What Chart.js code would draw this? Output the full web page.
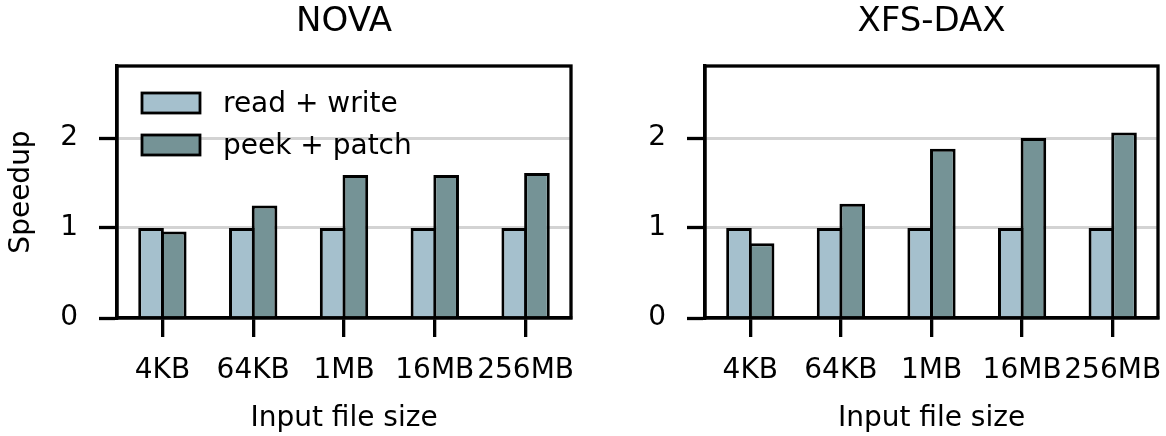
<!DOCTYPE html>
<html>
<head>
<meta charset="utf-8">
<script src="https://cdn.jsdelivr.net/npm/chart.js@4.4.1/dist/chart.umd.min.js"></script>
<style>
  html,body{margin:0;padding:0;background:#fff;}
  #wrap{position:relative;width:1166px;height:436px;}
  canvas{position:absolute;top:0;}
  #novaChart{left:0;}
  #xfsChart{left:583px;}
</style>
</head>
<body>
<div id="wrap">
  <canvas id="novaChart" width="583" height="436"></canvas>
  <canvas id="xfsChart" width="583" height="436"></canvas>
</div>
<script>
// datos (speedup relativo a read + write)
const sizes = ['4KB', '64KB', '1MB', '16MB', '256MB'];
const seriesNames = ['read + write', 'peek + patch'];
const novaReadWrite = [1, 1, 1, 1, 1];
const novaPeekPatch = [0.96, 1.25, 1.59, 1.59, 1.61];
const xfsReadWrite = [1, 1, 1, 1, 1];
const xfsPeekPatch = [0.83, 1.27, 1.88, 2.0, 2.06];
const yMax = 2.8;

const LIGHT = '#a5c0cd', DARK = '#759396', GRID = '#d3d3d3';
const FONT = '"DejaVu Sans"';
const AXW = 3.3;
Chart.defaults.font.family = FONT;
Chart.defaults.color = '#000';

// marco completo alrededor del área (Chart.js solo dibuja izquierda/abajo)
const framePlugin = {
  id: 'frame',
  afterDatasetsDraw(chart) {
    const a = chart.chartArea, ctx = chart.ctx;
    ctx.save();
    ctx.strokeStyle = '#000';
    ctx.lineWidth = AXW;
    ctx.strokeRect(a.left, a.top, a.right - a.left, a.bottom - a.top);
    ctx.restore();
  }
};

// leyenda sin marco dentro del área, como en el original
const insideLegend = {
  id: 'insideLegend',
  afterDatasetsDraw(chart, args, opts) {
    if (!opts.show) return;
    const a = chart.chartArea, ctx = chart.ctx;
    ctx.save();
    chart.data.datasets.forEach((ds, i) => {
      const bx = a.left + 25, by = a.top + 27 + i * 42;
      ctx.fillStyle = ds.backgroundColor;
      ctx.fillRect(bx, by, 58, 20);
      ctx.strokeStyle = '#000';
      ctx.lineWidth = 2.8;
      ctx.strokeRect(bx, by, 58, 20);
      ctx.fillStyle = '#000';
      ctx.font = '28px ' + FONT;
      ctx.textAlign = 'left';
      ctx.textBaseline = 'middle';
      ctx.fillText(ds.label, a.left + 106, by + 12);
    });
    ctx.restore();
  }
};

function makeChart(id, title, rw, pp, yWidth, padRight, firstPanel) {
  return new Chart(document.getElementById(id).getContext('2d'), {
    type: 'bar',
    data: {
      labels: sizes,
      datasets: [
        {label: seriesNames[0], data: rw, backgroundColor: LIGHT, borderColor: '#000', borderWidth: 3},
        {label: seriesNames[1], data: pp, backgroundColor: DARK, borderColor: '#000', borderWidth: 3},
      ]
    },
    options: {
      responsive: false, animation: false,
      categoryPercentage: 0.5, barPercentage: 1.13,
      layout: {padding: {left: 0, right: padRight, top: 0, bottom: 0}},
      plugins: {
        legend: {display: false},
        tooltip: {enabled: false},
        title: {display: true, text: title, fullSize: false, color: '#000',
                font: {size: 34, weight: 'normal'}, padding: {top: 2.2, bottom: 23}},
        insideLegend: {show: firstPanel},
      },
      scales: {
        x: {
          grid: {offset: false, drawOnChartArea: false, tickLength: 19, tickWidth: AXW, tickColor: '#000', color: '#000', lineWidth: AXW},
          border: {color: '#000', width: AXW},
          ticks: {font: {size: 28}, padding: 17, autoSkip: false, maxRotation: 0, minRotation: 0},
          title: {display: true, text: 'Input file size', font: {size: 28}, padding: {top: 0, bottom: 0}},
          afterFit: s => { s.height = 118; s.paddingLeft = 0; s.paddingRight = 0; }
        },
        y: {
          min: 0, max: yMax,
          grid: {color: c => c.tick && c.tick.value === 0 ? 'rgba(0,0,0,0)' : GRID, lineWidth: 3,
                 tickLength: 18, tickWidth: AXW, tickColor: '#000'},
          border: {color: '#000', width: AXW},
          ticks: {stepSize: 1, includeBounds: false, font: {size: 28}, padding: 21},
          title: {display: firstPanel, text: 'Speedup', font: {size: 28}, padding: {top: 5, bottom: 0}},
          afterFit: s => { s.width = yWidth; }
        }
      }
    },
    plugins: [framePlugin, insideLegend]
  });
}

makeChart('novaChart', 'NOVA', novaReadWrite, novaPeekPatch, 117, 12, true);
makeChart('xfsChart', 'XFS-DAX', xfsReadWrite, xfsPeekPatch, 122, 8, false);
</script>
</body>
</html>
